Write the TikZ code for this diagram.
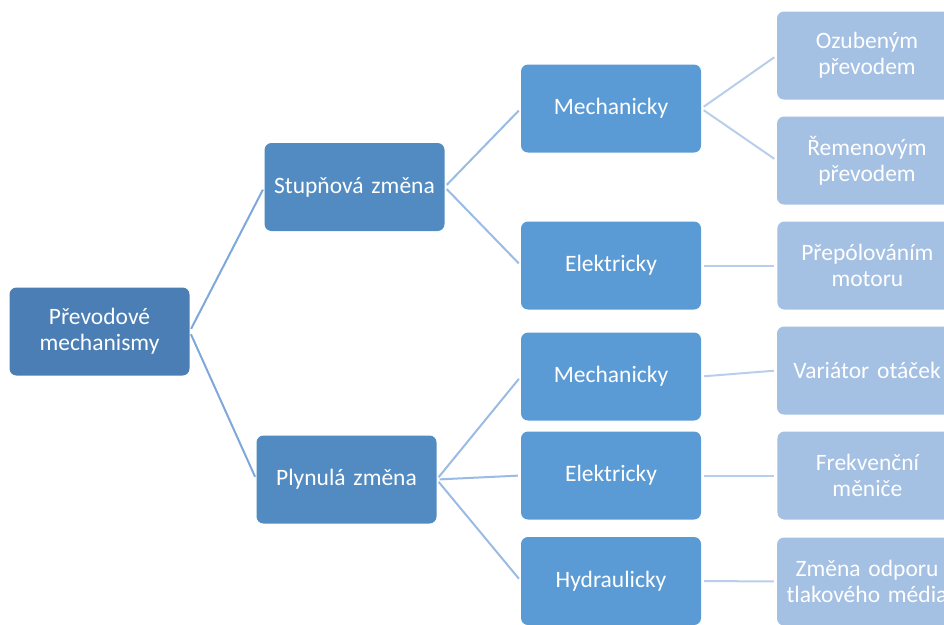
\documentclass[tikz,border=0pt]{standalone}
\usepackage{fontspec}
\setmainfont{Carlito}
\usepackage{tikz}
\usetikzlibrary{positioning}

\definecolor{rootblue}{HTML}{4A7EB4}
\definecolor{midblue}{HTML}{528BC2}
\definecolor{subblue}{HTML}{5B9BD5}
\definecolor{leafblue}{HTML}{A4C0E3}
\definecolor{linea}{HTML}{7EA8DA}
\definecolor{lineb}{HTML}{9ABBE3}
\definecolor{linec}{HTML}{B8CEEA}

\tikzset{
  box/.style={rounded corners=7pt, minimum width=180pt, minimum height=88pt,
    inner sep=0pt, text=white, align=center, text width=176pt,
    font=\fontsize{23.5}{26}\selectfont},
  rootbox/.style={box, fill=rootblue},
  midbox/.style={box, fill=midblue},
  subbox/.style={box, fill=subblue},
  leafbox/.style={box, fill=leafblue},
  conn/.style={line width=2pt, shorten <=3pt, shorten >=3pt}
}

\begin{document}
\begin{tikzpicture}[x=1pt,y=-1pt,node distance=76pt]
\useasboundingbox (0,0) rectangle (944,624);
\clip (0,0) rectangle (944,624);
\node (prevod) [rootbox] at (99.5,331.5) {Převodové\\mechanismy};
\node (stupn) [midbox] at (354.5,187) {Stupňová změna};
\node (plyn) [midbox] at (346.5,479.5) {Plynulá změna};
\node (mech1) [subbox] at (611,108.5) {Mechanicky};
\node (elek1) [subbox] at (611,265.5) {Elektricky};
\node (mech2) [subbox] at (611,376.5) {Mechanicky};
\node (elek2) [subbox] at (611,475.5) {Elektricky};
\node (hydr) [subbox] at (611,581) {Hydraulicky};
\node (ozub) [leafbox] at (867,55.5) {Ozubeným\\převodem};
\node (rem) [leafbox] at (867,160.5) {Řemenovým\\převodem};
\node (prep) [leafbox, right=of elek1] {Přepólováním\\motoru};
\node (var) [leafbox] at (867,370.5) {Variátor otáček};
\node (frek) [leafbox, right=of elek2] {Frekvenční\\měniče};
\node (odpor) [leafbox] at (867,581.5) {Změna odporu\\tlakového média};

\path[conn, draw=linea]	(prevod.east)	edge (stupn.west)
							edge (plyn.west);
\path[conn, draw=lineb]	(stupn.east)	edge (mech1.west)
							edge (elek1.west)
			(plyn.east)	edge (mech2.west)
							edge (elek2.west)
							edge (hydr.west);
\path[conn, draw=linec]	(mech1.east)	edge (ozub.west)
							edge (rem.west)
			(elek1.east)	edge (prep.west)
			(mech2.east)	edge (var.west)
			(elek2.east)	edge (frek.west)
			(hydr.east)	edge (odpor.west);
\end{tikzpicture}
\end{document}
